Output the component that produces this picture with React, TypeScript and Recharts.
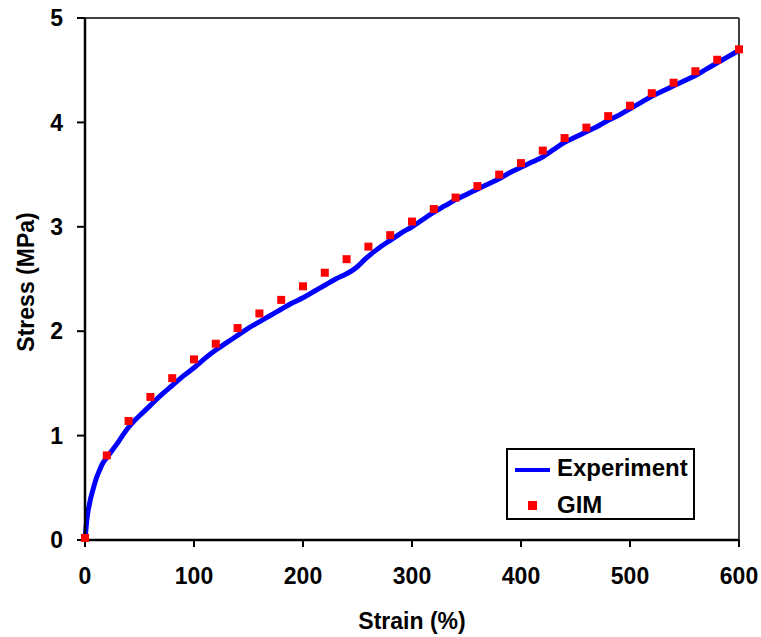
import { ComposedChart, Line, Scatter, XAxis, YAxis, ReferenceLine, Legend } from "recharts";

const FONT = "'Liberation Sans', Arial, sans-serif";

// measured stress-strain curve
const expStrain = [
    0, 1, 2, 3, 4, 5, 7, 10, 13, 16, 20, 25, 30, 35, 40, 45, 50, 60, 70, 80, 90, 100,
    110, 120, 130, 140, 150, 160, 170, 180, 190, 200, 210, 220, 230, 240, 245, 250, 258,
    265, 270, 280, 290, 300, 310, 320, 330, 340, 350, 360, 370, 380, 390, 400, 410, 420,
    430, 440, 450, 460, 470, 480, 490, 500, 510, 520, 530, 540, 550, 560, 570, 580, 590, 600,
];
const expStress = [
    0, 0.12, 0.22, 0.29, 0.34, 0.39, 0.47, 0.58, 0.66, 0.73, 0.79, 0.86, 0.93, 1.01, 1.08, 1.14, 1.19, 1.29, 1.39, 1.48, 1.57, 1.65,
    1.74, 1.82, 1.89, 1.96, 2.03, 2.09, 2.15, 2.21, 2.27, 2.32, 2.38, 2.44, 2.50, 2.55, 2.58, 2.62, 2.70,
    2.76, 2.80, 2.87, 2.94, 3.00, 3.07, 3.14, 3.20, 3.26, 3.31, 3.36, 3.41, 3.46, 3.52, 3.57, 3.62, 3.67,
    3.74, 3.81, 3.86, 3.91, 3.96, 4.02, 4.07, 4.13, 4.19, 4.25, 4.30, 4.35, 4.40, 4.45, 4.51, 4.57, 4.63, 4.69,
];

// GIM model points
const gimStrain = [
    0, 20, 40, 60, 80, 100, 120, 140, 160, 180, 200, 220, 240, 260, 280, 300,
    320, 340, 360, 380, 400, 420, 440, 460, 480, 500, 520, 540, 560, 580, 600,
];
const gimStress = [
    0.02, 0.81, 1.14, 1.37, 1.55, 1.73, 1.88, 2.03, 2.17, 2.30, 2.43, 2.56, 2.69, 2.81, 2.92, 3.05,
    3.17, 3.28, 3.39, 3.50, 3.61, 3.73, 3.85, 3.95, 4.06, 4.16, 4.28, 4.38, 4.49, 4.60, 4.70,
];

const xTicks = [0, 100, 200, 300, 400, 500, 600];
const yTicks = [0, 1, 2, 3, 4, 5];

const expData = expStrain.map((x, i) => ({ x, y: expStress[i] }));
const gimData = gimStrain.map((x, i) => ({ x, y: gimStress[i] }));

const tickStyle = { fontFamily: FONT, fontWeight: "bold", fontSize: 23, fill: "#000" };

const CustomLegend = () => (
    <div style={{
        width: 185, height: 68, border: "2px solid #000", background: "#fff",
        fontFamily: FONT, fontWeight: "bold", fontSize: 24, color: "#000", position: "relative",
    }}>
        <div style={{ position: "absolute", left: 7, top: 18, width: 35, height: 4, background: "#0000ff" }} />
        <div style={{ position: "absolute", left: 49, top: 5, lineHeight: "26px" }}>Experiment</div>
        <div style={{ position: "absolute", left: 20, top: 51, width: 9, height: 9, background: "#ff0000" }} />
        <div style={{ position: "absolute", left: 49, top: 42, lineHeight: "26px" }}>GIM</div>
    </div>
);

export default function App() {
    return (
        <div style={{ position: "absolute", left: 0, top: 0, width: 761, height: 637, background: "#fff" }}>
            <ComposedChart width={761} height={637} margin={{ top: 18, right: 22, left: 0, bottom: 0 }}>
                <XAxis
                    type="number"
                    dataKey="x"
                    domain={[0, 600]}
                    ticks={xTicks}
                    interval={0}
                    height={97}
                    tickSize={7}
                    tickMargin={21}
                    tick={tickStyle}
                    axisLine={{ stroke: "#000", strokeWidth: 2.5 }}
                    tickLine={{ stroke: "#000", strokeWidth: 2 }}
                    label={{ value: "Strain (%)", position: "insideBottom", offset: 8, style: { fontFamily: FONT, fontWeight: "bold", fontSize: 23, fill: "#000" } }}
                />
                <YAxis
                    type="number"
                    dataKey="y"
                    domain={[0, 5]}
                    ticks={yTicks}
                    interval={0}
                    width={85}
                    tickSize={8}
                    tickMargin={14}
                    tick={tickStyle}
                    axisLine={{ stroke: "#000", strokeWidth: 2.5 }}
                    tickLine={{ stroke: "#000", strokeWidth: 2 }}
                    label={() => (
                        <text
                            x={34}
                            y={282}
                            transform="rotate(-90, 34, 282)"
                            textAnchor="middle"
                            style={{ fontFamily: FONT, fontWeight: "bold", fontSize: 23, fill: "#000" }}
                        >
                            Stress (MPa)
                        </text>
                    )}
                />
                <ReferenceLine y={5} stroke="#404040" strokeWidth={2} />
                <ReferenceLine x={600} stroke="#404040" strokeWidth={2} />
                <Line
                    data={expData}
                    dataKey="y"
                    type="monotone"
                    stroke="#0000ff"
                    strokeWidth={5}
                    dot={false}
                    activeDot={false}
                    isAnimationActive={false}
                />
                <Scatter
                    data={gimData}
                    dataKey="y"
                    fill="#ff0000"
                    shape="square"
                    size={100}
                    isAnimationActive={false}
                />
                <Legend
                    layout="horizontal"
                    verticalAlign="middle"
                    align="center"
                    content={<CustomLegend />}
                    wrapperStyle={{ position: "absolute", left: 506, top: 448, width: 189, height: 72 }}
                />
            </ComposedChart>
        </div>
    );
}
